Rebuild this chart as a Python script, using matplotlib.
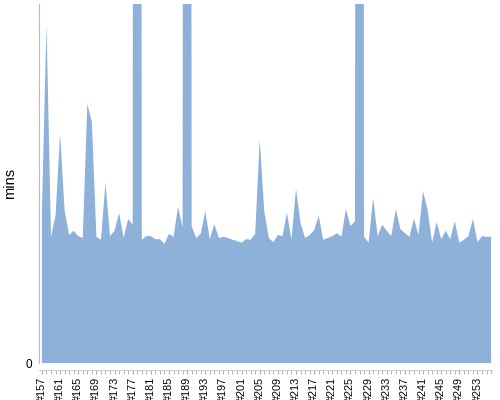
import matplotlib
matplotlib.use("Agg")
import matplotlib.pyplot as plt
import numpy as np

# build numbers #157 .. #256, minutes per build
builds = list(range(157, 257))
mins = [
    25.6, 56.7, 21.1, 24.7, 38.4, 25.4, 21.4, 22.1, 21.2, 20.9,   # 157-166
    43.3, 40.3, 21.1, 20.6, 30.1, 21.2, 22.1, 25.1, 20.9, 24.1,   # 167-176
    23.1, 900.0, 20.6, 21.2, 21.2, 20.7, 20.7, 19.9, 21.6, 21.1,  # 177-186
    26.1, 22.6, 900.0, 22.9, 20.9, 21.6, 25.4, 20.7, 23.2, 20.9,  # 187-196
    21.1, 20.9, 20.6, 20.4, 20.1, 20.7, 20.6, 21.6, 37.4, 25.4,   # 197-206
    20.9, 20.2, 21.4, 21.2, 25.1, 20.6, 29.1, 23.4, 20.9, 21.4,   # 207-216
    22.2, 24.6, 20.6, 20.9, 21.2, 21.7, 21.1, 25.7, 22.9, 23.7,   # 217-226
    900.0, 21.1, 20.1, 27.6, 21.2, 23.1, 22.1, 21.2, 25.7, 22.4,  # 227-236
    21.7, 21.1, 24.1, 21.4, 28.7, 25.6, 20.1, 23.6, 20.7, 22.1,   # 237-246
    20.7, 23.7, 20.1, 20.6, 21.2, 24.1, 20.2, 21.2, 21.1, 21.1,   # 247-256
]
label_builds = list(range(157, 257, 4))

plt.rcParams['font.family'] = ['Liberation Sans', 'DejaVu Sans']

fig = plt.figure(figsize=(5, 4), dpi=100)
ax = fig.add_axes([0.078, 0.0925, 0.906, 0.8975])

ax.fill_between(builds, mins, 0, color='#8eb1da', linewidth=0)

ax.set_xlim(156.35, 256.2)
ax.set_ylim(0, 60)

ax.set_yticks([0])
ax.set_yticklabels(['0'], fontsize=8.5)
ax.set_ylabel('mins', fontsize=10.5, labelpad=6)

ax.set_xticks(builds, minor=True)
ax.set_xticks(label_builds, labels=['#%d' % b for b in label_builds])
ax.tick_params(axis='x', which='major', labelrotation=90, labelsize=7.8)
ax.tick_params(axis='x', which='both', length=3, color='#aaaaaa', pad=2)
ax.tick_params(axis='y', length=0, pad=5)

for s in ['top', 'right']:
    ax.spines[s].set_visible(False)
ax.spines['left'].set_color('#bbbbbb')
ax.spines['bottom'].set_color('#cccccc')
ax.spines['bottom'].set_position(('outward', 5))

fig.savefig('out.png', dpi=100)
